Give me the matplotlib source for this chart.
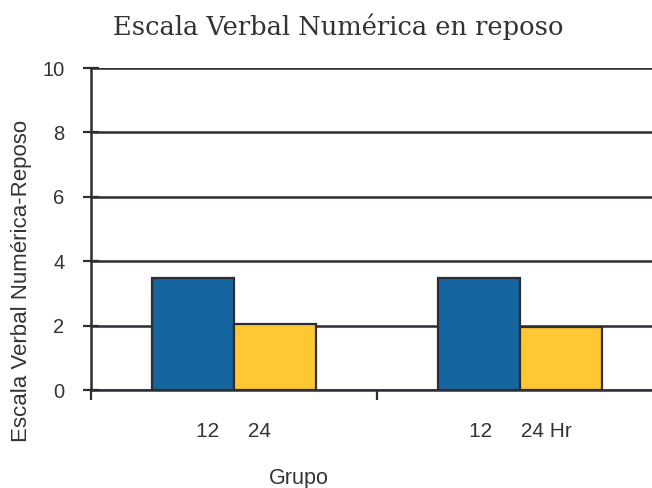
import matplotlib
matplotlib.use('Agg')
import matplotlib.pyplot as plt
import numpy as np

# data
groups = ['12     24', '12     24 Hr']
horas_12 = [3.47, 3.47]
horas_24 = [2.05, 1.97]
yticks = [0, 2, 4, 6, 8, 10]

dark = '#2c2d35'
blue = '#15659e'
yellow = '#ffc832'

plt.rcParams['font.family'] = ['Liberation Sans', 'DejaVu Sans']

fig = plt.figure(figsize=(6.52, 4.88), dpi=100)
# axes from x=91 to right edge, y from 68 to 390 px
ax = fig.add_axes([91 / 652, 1 - 390 / 488, 1 - 91 / 652, 322 / 488])

x = np.arange(len(groups)) + 0.5
w = 0.288
ax.bar(x - w / 2, horas_12, w, color=blue, edgecolor=dark, linewidth=1.6, zorder=3)
ax.bar(x + w / 2, horas_24, w, color=yellow, edgecolor=dark, linewidth=1.6, zorder=3)

ax.set_ylim(0, 10)
ax.set_xlim(0, 1.962)
ax.set_yticks(yticks)
ax.yaxis.grid(True, color=dark, linewidth=1.8, zorder=1)
ax.tick_params(axis='y', direction='inout', length=12, width=1.6, color=dark,
               labelsize=14.5, labelcolor='#333333', pad=13)

ax.set_xticks(x)
ax.set_xticklabels(groups)
ax.tick_params(axis='x', length=0, labelsize=15, labelcolor='#333333', pad=23)
ax.set_xticks([0, 1], minor=True)
ax.tick_params(axis='x', which='minor', direction='out', length=7, width=1.6, color=dark)

for s in ['top', 'right']:
    ax.spines[s].set_visible(False)
for s in ['left', 'bottom']:
    ax.spines[s].set_color(dark)
    ax.spines[s].set_linewidth(1.8)

ax.set_ylabel('Escala Verbal Numérica-Reposo', fontsize=16, color='#333333')
ax.yaxis.set_label_coords(-0.105, 0.34)
ax.set_xlabel('Grupo', fontsize=15.5, color='#333333')
ax.xaxis.set_label_coords((299 - 91) / 561, -0.243)

fig.text(338 / 652, 1 - 27 / 488, 'Escala Verbal Numérica en reposo', ha='center', va='center',
         fontsize=18.5, family='DejaVu Serif', color='#333333')

fig.savefig('out.png', dpi=100)
